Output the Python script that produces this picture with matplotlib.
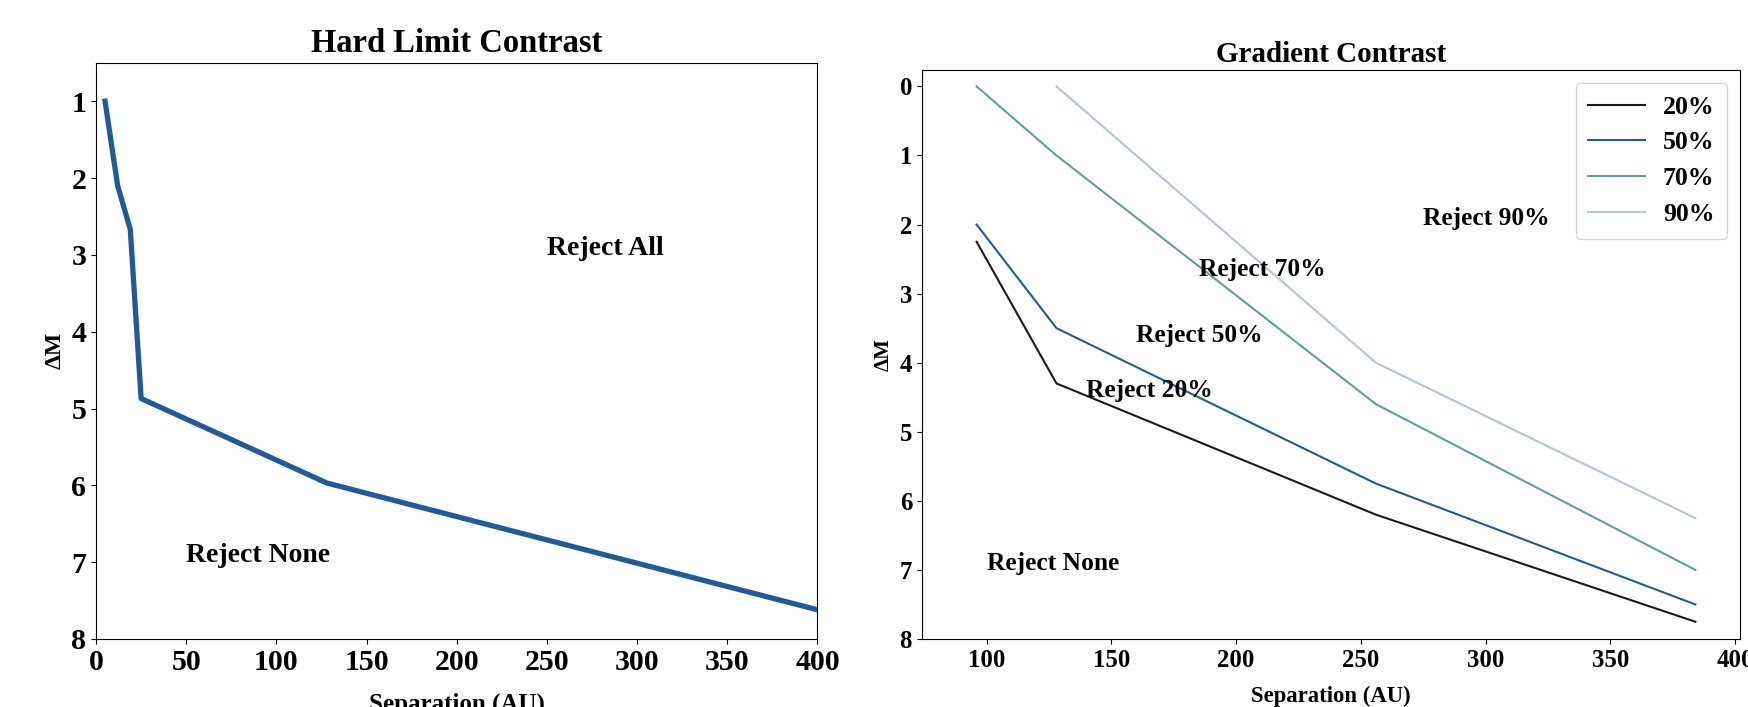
import numpy as np
import matplotlib.pyplot as plt

plt.rcParams['font.family'] = ['Liberation Serif', 'DejaVu Serif']
plt.rcParams['font.weight'] = 'bold'

# hard limit curve
hard_sep = [5, 12, 19, 25, 128, 400]
hard_dm = [1.0, 2.1, 2.67, 4.87, 5.97, 7.62]

# gradient curves
grad_sep = [96, 128, 256, 384]
grad_20 = [2.25, 4.3, 6.2, 7.75]
grad_50 = [2.0, 3.5, 5.75, 7.5]
grad_70 = [0.0, 1.0, 4.6, 7.0]
sep_90 = [128, 256, 384]
grad_90 = [0.0, 4.0, 6.25]

fig = plt.figure(figsize=(17.49, 7.07), dpi=100)

# left panel
ax1 = fig.add_axes([0.0549, 0.0962, 0.4125, 0.815])
ax1.plot(hard_sep, hard_dm, color='#1f5b99', lw=3.8)
ax1.set_xlim(0, 400)
ax1.set_ylim(8, 0.5)
ax1.set_title('Hard Limit Contrast', fontsize=23.5, fontweight='bold', pad=8)
ax1.set_xlabel('Separation (AU)', fontsize=18, fontweight='bold', labelpad=12)
ax1.set_ylabel('ΔM', fontsize=17, fontweight='bold')
ax1.tick_params(labelsize=21.5)
ax1.text(250, 3, 'Reject All', fontsize=20, fontweight='bold')
ax1.text(50, 7, 'Reject None', fontsize=20, fontweight='bold')

# right panel
ax2 = fig.add_axes([0.527, 0.0962, 0.468, 0.805])
ax2.plot(grad_sep, grad_20, color='#1a1a1a', lw=1.5, label='20%')
ax2.plot(grad_sep, grad_50, color='#1f5b9c', lw=1.5, label='50%')
ax2.plot(grad_sep, grad_70, color='#5f9ea0', lw=1.5, label='70%')
ax2.plot(sep_90, grad_90, color='#b0c4de', lw=1.5, label='90%')
ax2.set_xlim(74, 402)
ax2.set_ylim(8, -0.24)
ax2.set_title('Gradient Contrast', fontsize=21, fontweight='bold', pad=6)
ax2.set_xlabel('Separation (AU)', fontsize=16.4, fontweight='bold', labelpad=10)
ax2.set_ylabel('ΔM', fontsize=15, fontweight='bold')
ax2.tick_params(labelsize=17.8)
ax2.text(100, 7, 'Reject None', fontsize=18.4, fontweight='bold')
ax2.text(140, 4.5, 'Reject 20%', fontsize=18.4, fontweight='bold')
ax2.text(160, 3.7, 'Reject 50%', fontsize=18.4, fontweight='bold')
ax2.text(185, 2.75, 'Reject 70%', fontsize=18.4, fontweight='bold')
ax2.text(275, 2, 'Reject 90%', fontsize=18.4, fontweight='bold')
ax2.legend(loc='upper right', fontsize=18.5, handlelength=2.2,
           handletextpad=0.7, borderpad=0.5)

fig.savefig('out.png', dpi=100)
